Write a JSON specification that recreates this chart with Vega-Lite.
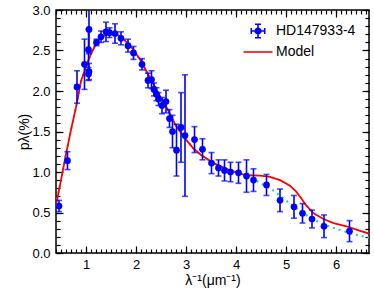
{
  "$schema": "https://vega.github.io/schema/vega-lite/v6.json",
  "width": 313,
  "height": 243,
  "autosize": "none",
  "padding": {"left": 56, "top": 10, "right": 5, "bottom": 38},
  "config": {
    "view": {"stroke": "black", "strokeWidth": 1.5},
    "font": "Liberation Sans",
    "axis": {"labelFont": "Liberation Sans", "labelFontSize": 13, "labelColor": "black", "titleFont": "Liberation Sans", "titleFontSize": 14, "titleFontWeight": "normal", "titleColor": "black", "domain": false, "grid": false, "tickColor": "black", "tickWidth": 1.2},
    "legend": {"labelFont": "Liberation Sans", "labelFontSize": 14, "labelColor": "black"}
  },
  "datasets": {
    "obs": [
      {"x": 0.46, "y": 0.58, "lo": 0.51, "hi": 0.65},
      {"x": 0.63, "y": 1.14, "lo": 1.03, "hi": 1.25},
      {"x": 0.82, "y": 2.05, "lo": 1.85, "hi": 2.25},
      {"x": 0.97, "y": 2.33, "lo": 2.02, "hi": 2.64},
      {"x": 1.05, "y": 2.21, "lo": 2.13, "hi": 2.29},
      {"x": 1.06, "y": 2.24, "lo": 2.14, "hi": 2.34},
      {"x": 1.05, "y": 2.51, "lo": 2.26, "hi": 2.76},
      {"x": 1.06, "y": 2.76, "lo": 2.46, "hi": 3.06},
      {"x": 1.21, "y": 2.60, "lo": 2.56, "hi": 2.64},
      {"x": 1.30, "y": 2.67, "lo": 2.60, "hi": 2.74},
      {"x": 1.40, "y": 2.73, "lo": 2.61, "hi": 2.85},
      {"x": 1.47, "y": 2.72, "lo": 2.66, "hi": 2.78},
      {"x": 1.58, "y": 2.71, "lo": 2.59, "hi": 2.83},
      {"x": 1.70, "y": 2.65, "lo": 2.57, "hi": 2.73},
      {"x": 1.84, "y": 2.56, "lo": 2.48, "hi": 2.64},
      {"x": 1.95, "y": 2.47, "lo": 2.39, "hi": 2.55},
      {"x": 2.12, "y": 2.33, "lo": 2.26, "hi": 2.40},
      {"x": 2.24, "y": 2.13, "lo": 2.04, "hi": 2.22},
      {"x": 2.31, "y": 2.14, "lo": 2.03, "hi": 2.25},
      {"x": 2.36, "y": 2.02, "lo": 1.94, "hi": 2.10},
      {"x": 2.41, "y": 1.96, "lo": 1.88, "hi": 2.04},
      {"x": 2.45, "y": 1.90, "lo": 1.82, "hi": 1.98},
      {"x": 2.52, "y": 1.82, "lo": 1.72, "hi": 1.92},
      {"x": 2.60, "y": 1.87, "lo": 1.73, "hi": 2.01},
      {"x": 2.67, "y": 1.66, "lo": 1.55, "hi": 1.77},
      {"x": 2.73, "y": 1.50, "lo": 1.30, "hi": 1.70},
      {"x": 2.81, "y": 1.27, "lo": 0.95, "hi": 1.59},
      {"x": 2.90, "y": 1.55, "lo": 1.12, "hi": 1.98},
      {"x": 2.98, "y": 1.45, "lo": 0.70, "hi": 2.20},
      {"x": 3.17, "y": 1.40, "lo": 1.24, "hi": 1.56},
      {"x": 3.33, "y": 1.28, "lo": 1.15, "hi": 1.41},
      {"x": 3.51, "y": 1.11, "lo": 0.98, "hi": 1.24},
      {"x": 3.65, "y": 1.05, "lo": 0.95, "hi": 1.15},
      {"x": 3.77, "y": 1.02, "lo": 0.89, "hi": 1.15},
      {"x": 3.89, "y": 1.00, "lo": 0.88, "hi": 1.12},
      {"x": 4.05, "y": 0.99, "lo": 0.86, "hi": 1.12},
      {"x": 4.21, "y": 0.95, "lo": 0.75, "hi": 1.15},
      {"x": 4.35, "y": 0.90, "lo": 0.76, "hi": 1.04},
      {"x": 4.61, "y": 0.84, "lo": 0.71, "hi": 0.97},
      {"x": 4.88, "y": 0.65, "lo": 0.51, "hi": 0.79},
      {"x": 5.16, "y": 0.57, "lo": 0.43, "hi": 0.71},
      {"x": 5.33, "y": 0.49, "lo": 0.37, "hi": 0.61},
      {"x": 5.52, "y": 0.42, "lo": 0.31, "hi": 0.53},
      {"x": 5.76, "y": 0.33, "lo": 0.19, "hi": 0.47},
      {"x": 6.27, "y": 0.27, "lo": 0.14, "hi": 0.40}
    ],
    "model": [
      {"x": 0.40, "y": 0.59}, {"x": 0.50, "y": 0.90}, {"x": 0.60, "y": 1.22}, {"x": 0.70, "y": 1.52},
      {"x": 0.80, "y": 1.80}, {"x": 0.90, "y": 2.12}, {"x": 1.00, "y": 2.30}, {"x": 1.10, "y": 2.46},
      {"x": 1.20, "y": 2.58}, {"x": 1.30, "y": 2.66}, {"x": 1.45, "y": 2.71}, {"x": 1.60, "y": 2.70},
      {"x": 1.70, "y": 2.67}, {"x": 1.80, "y": 2.61}, {"x": 1.95, "y": 2.51}, {"x": 2.10, "y": 2.37},
      {"x": 2.28, "y": 2.16}, {"x": 2.45, "y": 1.97}, {"x": 2.61, "y": 1.80}, {"x": 2.80, "y": 1.57},
      {"x": 3.00, "y": 1.40}, {"x": 3.15, "y": 1.29}, {"x": 3.30, "y": 1.21}, {"x": 3.55, "y": 1.11},
      {"x": 3.88, "y": 1.02}, {"x": 4.20, "y": 0.96}, {"x": 4.48, "y": 0.955}, {"x": 4.68, "y": 0.94},
      {"x": 4.88, "y": 0.90}, {"x": 5.08, "y": 0.83}, {"x": 5.20, "y": 0.76}, {"x": 5.30, "y": 0.68},
      {"x": 5.40, "y": 0.59}, {"x": 5.55, "y": 0.49}, {"x": 5.75, "y": 0.42}, {"x": 5.95, "y": 0.37},
      {"x": 6.21, "y": 0.33}, {"x": 6.45, "y": 0.28}, {"x": 6.66, "y": 0.24}
    ],
    "fit": [
      {"x": 0.40, "y": 0.59}, {"x": 0.50, "y": 0.90}, {"x": 0.60, "y": 1.22}, {"x": 0.70, "y": 1.52},
      {"x": 0.80, "y": 1.80}, {"x": 0.90, "y": 2.12}, {"x": 1.00, "y": 2.30}, {"x": 1.10, "y": 2.46},
      {"x": 1.20, "y": 2.58}, {"x": 1.30, "y": 2.66}, {"x": 1.45, "y": 2.71}, {"x": 1.60, "y": 2.70},
      {"x": 1.70, "y": 2.67}, {"x": 1.80, "y": 2.61}, {"x": 1.95, "y": 2.51}, {"x": 2.10, "y": 2.37},
      {"x": 2.28, "y": 2.16}, {"x": 2.45, "y": 1.97}, {"x": 2.61, "y": 1.80}, {"x": 2.80, "y": 1.57},
      {"x": 3.00, "y": 1.40}, {"x": 3.15, "y": 1.29}, {"x": 3.30, "y": 1.21}, {"x": 3.55, "y": 1.11},
      {"x": 3.88, "y": 1.02}, {"x": 4.20, "y": 0.96}, {"x": 4.35, "y": 0.91}, {"x": 4.50, "y": 0.86},
      {"x": 4.70, "y": 0.79}, {"x": 4.90, "y": 0.70}, {"x": 5.10, "y": 0.60}, {"x": 5.30, "y": 0.51},
      {"x": 5.50, "y": 0.43}, {"x": 5.70, "y": 0.37}, {"x": 5.90, "y": 0.32}, {"x": 6.10, "y": 0.28},
      {"x": 6.30, "y": 0.24}, {"x": 6.50, "y": 0.21}, {"x": 6.66, "y": 0.19}
    ]
  },
  "resolve": {"axis": {"x": "independent", "y": "independent"}},
  "layer": [
    {
      "data": {"name": "fit"},
      "mark": {"type": "line", "color": "#22c8c8", "strokeDash": [2, 4], "strokeWidth": 2, "clip": true},
      "encoding": {
        "x": {"field": "x", "type": "quantitative", "scale": {"domain": [0.4, 6.66], "nice": false, "zero": false},
          "axis": {"orient": "bottom", "values": [1, 2, 3, 4, 5, 6], "tickSize": -7, "labelPadding": 12, "title": "λ⁻¹(μm⁻¹)", "titlePadding": 2}},
        "y": {"field": "y", "type": "quantitative", "scale": {"domain": [0, 3], "nice": false, "zero": false},
          "axis": {"orient": "left", "values": [0, 0.5, 1, 1.5, 2, 2.5, 3], "format": ".1f", "tickSize": -7, "labelPadding": 13, "title": "pλ(%)", "titlePadding": 0}}
      }
    },
    {
      "data": {"name": "model"},
      "mark": {"type": "line", "color": "red", "strokeWidth": 1.8, "clip": true},
      "encoding": {
        "x": {"field": "x", "type": "quantitative", "scale": {"domain": [0.4, 6.66], "nice": false, "zero": false},
          "axis": {"orient": "bottom", "tickCount": 60, "tickSize": -4, "labels": false, "title": null}},
        "y": {"field": "y", "type": "quantitative", "scale": {"domain": [0, 3], "nice": false, "zero": false},
          "axis": {"orient": "left", "tickCount": 30, "tickSize": -4, "labels": false, "title": null}},
        "color": {"datum": "Model", "type": "nominal",
          "scale": {"domain": ["HD147933-4", "Model"], "range": ["blue", "red"]},
          "legend": {"title": null, "orient": "top-right", "offset": 13, "labelOffset": 10, "rowPadding": 3, "symbolSize": 180,
            "encode": {"symbols": {"update": {
              "shape": {"signal": "datum.value === 'Model' ? 'stroke' : 'M-1,0H1M0,-1V1M-1,-0.45V0.45M1,-0.45V0.45M-0.45,-1H0.45M-0.45,1H0.45M0.42,0A0.42,0.42 0 1,1 -0.42,0A0.42,0.42 0 1,1 0.42,0Z'"},
              "size": {"signal": "datum.value === 'Model' ? 840 : 180"},
              "fill": {"signal": "datum.value === 'Model' ? 'transparent' : 'blue'"},
              "stroke": {"signal": "datum.value === 'Model' ? 'red' : 'blue'"},
              "strokeWidth": {"value": 1.6},
              "opacity": {"value": 1}
            }}}}}
      }
    },
    {
      "data": {"name": "obs"},
      "mark": {"type": "rule", "color": "blue", "strokeWidth": 1.6, "clip": true},
      "encoding": {
        "x": {"field": "x", "type": "quantitative", "scale": {"domain": [0.4, 6.66], "nice": false, "zero": false},
          "axis": {"orient": "top", "values": [1, 2, 3, 4, 5, 6], "tickSize": -7, "labels": false, "title": null}},
        "y": {"field": "lo", "type": "quantitative", "scale": {"domain": [0, 3], "nice": false, "zero": false},
          "axis": {"orient": "right", "values": [0, 0.5, 1, 1.5, 2, 2.5, 3], "tickSize": -7, "labels": false, "title": null}},
        "y2": {"field": "hi"}
      }
    },
    {
      "data": {"name": "obs"},
      "mark": {"type": "tick", "color": "blue", "orient": "horizontal", "size": 6, "thickness": 1.6, "clip": true},
      "encoding": {
        "x": {"field": "x", "type": "quantitative", "scale": {"domain": [0.4, 6.66], "nice": false, "zero": false},
          "axis": {"orient": "top", "tickCount": 60, "tickSize": -4, "labels": false, "title": null}},
        "y": {"field": "lo", "type": "quantitative", "scale": {"domain": [0, 3], "nice": false, "zero": false},
          "axis": {"orient": "right", "tickCount": 30, "tickSize": -4, "labels": false, "title": null}}
      }
    },
    {
      "data": {"name": "obs"},
      "mark": {"type": "tick", "color": "blue", "orient": "horizontal", "size": 6, "thickness": 1.6, "clip": true},
      "encoding": {
        "x": {"field": "x", "type": "quantitative", "scale": {"domain": [0.4, 6.66], "nice": false, "zero": false}, "axis": null},
        "y": {"field": "hi", "type": "quantitative", "scale": {"domain": [0, 3], "nice": false, "zero": false}, "axis": null}
      }
    },
    {
      "data": {"name": "obs"},
      "mark": {"type": "point", "filled": true, "shape": "circle", "size": 45, "opacity": 1, "clip": true},
      "encoding": {
        "x": {"field": "x", "type": "quantitative", "scale": {"domain": [0.4, 6.66], "nice": false, "zero": false}, "axis": null},
        "y": {"field": "y", "type": "quantitative", "scale": {"domain": [0, 3], "nice": false, "zero": false}, "axis": null},
        "color": {"datum": "HD147933-4", "type": "nominal"}
      }
    }
  ]
}
